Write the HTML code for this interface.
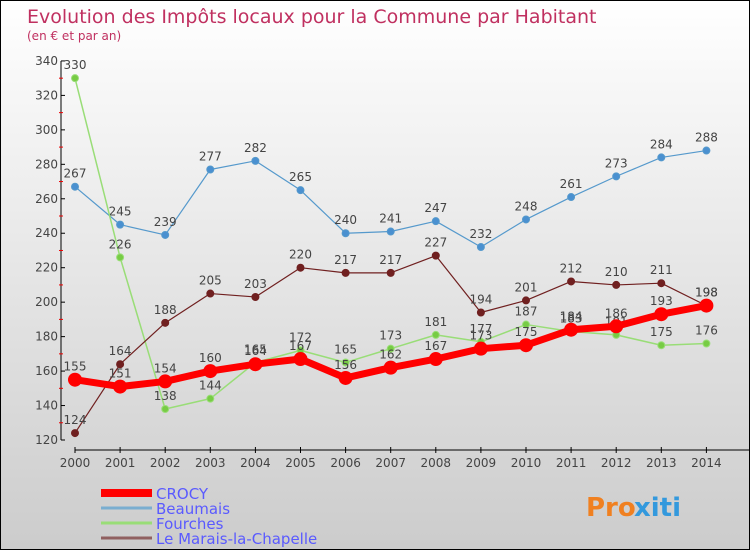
<!DOCTYPE html>
<html><head><meta charset="utf-8"><style>
body{margin:0}
#c{width:748px;height:548px;border:1px solid #000;background:linear-gradient(#fff,#ccc);position:relative;font-family:"DejaVu Sans","Liberation Sans",sans-serif}
</style></head><body>
<div id="c">
<svg id="s" width="748" height="548"></svg>
</div>
<script>
const years=[2000,2001,2002,2003,2004,2005,2006,2007,2008,2009,2010,2011,2012,2013,2014];
const crocy=[155,151,154,160,164,167,156,162,167,173,175,184,186,193,198];
const beaumais=[267,245,239,277,282,265,240,241,247,232,248,261,273,284,288];
const fourches=[330,226,138,144,165,172,165,173,181,177,187,183,181,175,176];
const marais=[124,164,188,205,203,220,217,217,227,194,201,212,210,211,198];
const yTicks=[120,140,160,180,200,220,240,260,280,300,320,340];
const seriesNames=["CROCY","Beaumais","Fourches","Le Marais-la-Chapelle"];
const svg=document.getElementById('s');const NS='http://www.w3.org/2000/svg';
function X(i){return 74+i*45.1;}
function Y(v){return 439-(v-120)*1.723;}
function el(t,a,p,txt){const e=document.createElementNS(NS,t);for(const k in a)e.setAttribute(k,a[k]);if(txt!==undefined)e.textContent=txt;(p||svg).appendChild(e);return e;}
let t=el('text',{x:26,y:22,'font-size':19,fill:'#c03060'},svg,'Evolution des Impôts locaux pour la Commune par Habitant');

t=el('text',{x:26,y:39,'font-size':12,fill:'#c03060'},svg,'(en € et par an)');

// axes
let a=el('line',{x1:60,y1:Y(340),x2:60,y2:Y(120),stroke:'#000'});
a=el('line',{x1:74,y1:449,x2:748,y2:449,stroke:'#000'});
yTicks.forEach((v,i)=>{el('line',{x1:60,y1:Y(v),x2:64,y2:Y(v),stroke:'#000'});
 if(i<yTicks.length-1)el('line',{x1:58,y1:Y(v+10),x2:62,y2:Y(v+10),stroke:'#e00'});
 const l=el('text',{x:57,y:Y(v)+4,'font-size':12,fill:'#444','text-anchor':'end'},svg,v);
 });
years.forEach((y,i)=>{el('line',{x1:X(i),y1:446,x2:X(i),y2:452,stroke:'#000'});
 const l=el('text',{x:X(i),y:466,'font-size':12,fill:'#444','text-anchor':'middle'},svg,y);
 });
function series(d,color,w,r,name,dot){
 const g=el('g',{});
 el('polyline',{points:d.map((v,i)=>X(i)+','+Y(v)).join(' '),fill:'none',stroke:color,'stroke-width':w,'stroke-linejoin':'round'},g);
 d.forEach((v,i)=>{const c=el('circle',{cx:X(i),cy:Y(v),r:r,fill:dot,stroke:color,'stroke-width':1},g);
  
  el('text',{x:X(i),y:Y(v)-9,'font-size':12,fill:'#444','text-anchor':'middle'},g,v);});
}
series(beaumais,'#5599cc',1.2,3.5,'beaumais-series','#4a90d0');
series(fourches,'#99dd77',1.5,3.5,'fourches-series','#77cc44');
series(marais,'#702020',1.2,3.5,'marais-series','#702020');
series(crocy,'#ff0000',7,6.5,'crocy-series','#ff0000');
const lc=['#ff0000','#7aaed0','#99dd77','#906060'],lw=[8,3,3,3];
seriesNames.forEach((n,i)=>{const g=el('g',{});
 const yy=492+i*15;el('line',{x1:100,y1:yy,x2:151,y2:yy,stroke:lc[i],'stroke-width':lw[i]},g);
 el('text',{x:155,y:yy+6,'font-size':15,fill:'#5a5aff'},g,n);});
t=el('text',{x:585,y:515,'font-size':26,'font-weight':'bold',fill:'#f08020'},svg,'Pro');

el('text',{x:633,y:515,'font-size':26,'font-weight':'bold',fill:'#3399dd'},svg,'xiti');
</script>
</body></html>
